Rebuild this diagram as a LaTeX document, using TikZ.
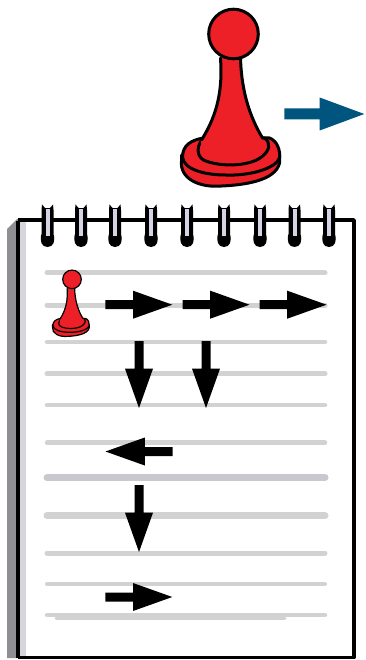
\documentclass[tikz,border=0pt]{standalone}
\definecolor{pawnred}{HTML}{EE2027}
\definecolor{navyblue}{HTML}{00557F}
\definecolor{ruleline}{HTML}{D2D2D2}
\definecolor{ruledark}{HTML}{C8C8CE}
\definecolor{sidegray}{HTML}{8F8F93}
\definecolor{sidelight}{HTML}{D6D6DC}
\definecolor{slot}{HTML}{D4D4E4}
\tikzset{
  pawnpart/.style={fill=pawnred,draw=black,line join=round,line cap=round},
  ruleband/.style={draw=ruleline,line cap=round},
  pics/blockarrow/.style n args={5}{code={% colour, length, head base, half shaft, half head
    \fill[#1] (0,-#4) -- (#3,-#4) -- (#3,-#5) -- (#2,0) -- (#3,#5) -- (#3,#4) -- (0,#4) -- cycle;
  }},
  pics/pawn/.style={code={%
    % lower disc
    \path[pawnpart,line width=#1] (-52,128) .. controls (-54,145) and (-35,155) .. (-12,153) .. controls (10,152) and (42,148) .. (46,130) -- (46,122) -- (-52,122) -- cycle;
    % upper disc
    \path[pawnpart,line width=#1] (-51,124) .. controls (-51,112) and (-42,107) .. (-30,105) -- (36,105) .. controls (44,108) and (47,118) .. (46,125) .. controls (42,136) and (15,143) .. (-8,142) .. controls (-30,142) and (-50,136) .. (-51,124) -- cycle;
    % inner ring
    \path[pawnpart,line width=#1] (-31,106) .. controls (-36,112) and (-38,122) .. (-30,127) .. controls (-15,134) and (15,134) .. (28,124) .. controls (36,118) and (38,110) .. (31,105) -- cycle;
    % stem
    \fill[pawnred] (-13,25) .. controls (-11,55) and (-15,80) .. (-33,108) -- (-28,123) -- (26,122) -- (29,105) .. controls (17,85) and (8,60) .. (7,25) -- cycle;
    \draw[line width=#1,line cap=round] (-13,25) .. controls (-11,55) and (-15,80) .. (-32,107);
    \draw[line width=#1,line cap=round] (29,105) .. controls (17,85) and (8,60) .. (7,25);
    % head
    \path[pawnpart,line width=#1] (0,1) circle[radius=24.8];
  }}
}
\begin{document}
\begin{tikzpicture}[x=1pt,y=-1pt]
\useasboundingbox (0,0) rectangle (365,660);
\fill[white] (0,0) rectangle (365,660);
% notebook sheet
\fill[sidegray] (7,229) -- (17,219) -- (20,219) -- (20,658) -- (7,658) -- cycle;
\fill[sidelight] (20,222) rectangle (26,656);
\fill[black] (15.5,221) rectangle (19.5,658);
\draw[line width=3.4pt,line join=round] (17.5,220) -- (354,220) -- (354,657.5) -- (17.5,657.5);
% ruled lines
\foreach \yy/\ww in {272.7/5,305/5,342/4.5,373.7/5,405/4.5,442.7/4.5,553/5,584/4,615/4.5}
  \draw[ruleband,line width=\ww pt] (47,\yy) -- (325,\yy);
\draw[ruleband,draw=ruledark,line width=7pt] (47,477.7) -- (325,477.7);
\draw[ruleband,line width=7pt] (47,515.7) -- (325,515.7);
\draw[ruleband,line width=3pt] (56,618) -- (285,618);
% rings
\foreach \xx in {47.5,81,115,151,187,224,260,294.5,329}{
  \begin{scope}[shift={(\xx,0)}]
    \fill[black] (-6,210) -- (-5.5,204.5) -- (-2.5,208) -- (2.5,208) -- (5.5,204.5) -- (6,210) -- (6,234) .. controls (8,241) and (6,247) .. (0,247) .. controls (-6,247) and (-8,241) .. (-6,234) -- cycle;
    \fill[slot] (-2,209) rectangle (2,236);
  \end{scope}
}
% large pawn and direction
\pic at (233.5,33) {pawn=3pt};
\pic at (284.3,114) {blockarrow={navyblue}{80}{35.4}{5.5}{16.5}};
% small pawn
\pic[scale=.375] at (72,279) {pawn=1.2pt};
% moves
\pic at (105.3,304.7) {blockarrow={black}{67}{27.7}{4.5}{14}};
\pic at (182.5,304.7) {blockarrow={black}{67}{27.7}{4.5}{14}};
\pic at (259.5,304.7) {blockarrow={black}{67}{27.7}{4.5}{14}};
\pic[rotate=-90] at (139,341) {blockarrow={black}{67}{27.7}{4.5}{14}};
\pic[rotate=-90] at (206,341) {blockarrow={black}{67}{27.7}{4.5}{14}};
\pic[rotate=180] at (172.5,451.5) {blockarrow={black}{67}{27.7}{4.5}{14}};
\pic[rotate=-90] at (139,485) {blockarrow={black}{67}{27.7}{4.5}{14}};
\pic at (105.3,597) {blockarrow={black}{67}{27.7}{4.5}{14}};
\end{tikzpicture}
\end{document}
